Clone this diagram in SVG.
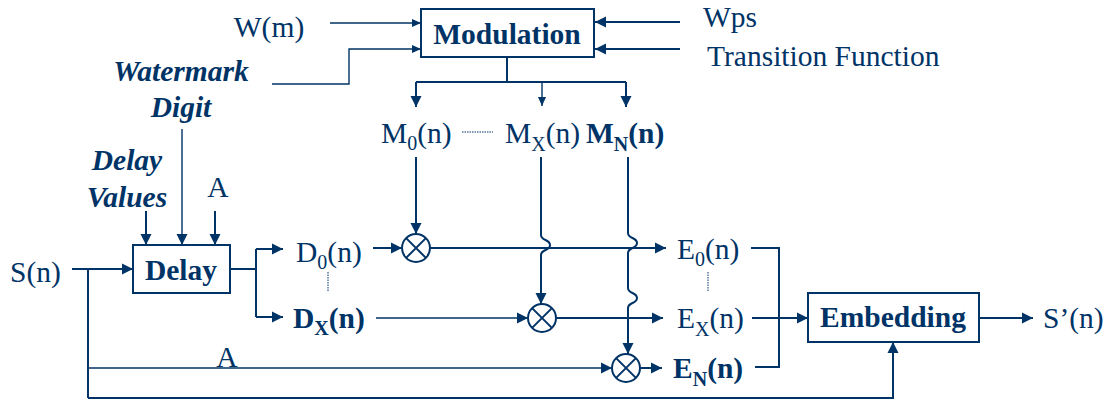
<svg xmlns="http://www.w3.org/2000/svg" width="1108" height="401" viewBox="0 0 1108 401" font-family="'Liberation Serif', 'Times New Roman', Times, serif">
<defs>
<marker id="ah" markerUnits="userSpaceOnUse" markerWidth="12" markerHeight="12" viewBox="0 0 12 12" refX="11" refY="6" orient="auto">
<path d="M0,0.5 L11,6 L0,11.5 Z" fill="#003366"/>
</marker>
<marker id="ahs" markerUnits="userSpaceOnUse" markerWidth="10" markerHeight="10" viewBox="0 0 10 10" refX="9" refY="5" orient="auto">
<path d="M0,1 L9,5 L0,9 Z" fill="#003366"/>
</marker>
</defs>
<style>
text{font-size:29.5px;fill:#003366}
.b{font-weight:bold}
.bi{font-weight:bold;font-style:italic}
.m{text-anchor:middle}
.sub{font-size:20px}
.box{fill:#fff;stroke:#003366;stroke-width:2}
.ln{fill:none;stroke:#003366;stroke-width:2}
.th{fill:none;stroke:#003366;stroke-width:1.4}
.dot{fill:none;stroke:#003366;stroke-width:1;stroke-dasharray:1.5 1}
.arr{marker-end:url(#ah)}
.arrs{marker-end:url(#ahs)}
</style>
<g id="connectors">
<path class="th arrs" d="M330,23 H421"/>
<path class="th arrs" d="M272,84 H349 V49 H421"/>
<path class="ln arr" d="M680,22 H595"/>
<path class="ln arr" d="M680,49 H595"/>
<path class="ln" d="M507,57 V82 M416,82 H626"/>
<path class="ln arr" d="M416,82 V107"/>
<path class="th arrs" d="M542,82 V106"/>
<path class="ln arr" d="M626,82 V107"/>
<path class="ln arr" d="M146,211 V245"/>
<path class="th arr" d="M182,129 V245"/>
<path class="ln arr" d="M215,211 V245"/>
<path class="ln arr" d="M72,269 H133"/>
<path class="ln" d="M230,269 H256 M256,249 V317"/>
<path class="ln arr" d="M256,249 H283"/>
<path class="ln arr" d="M256,317 H283"/>
<path class="ln" d="M88,269 V398"/>
<path class="th arr" d="M88,368 H612"/>
<path class="ln arr" d="M88,398 H893 V342"/>
<path class="ln arr" d="M373,248 H402"/>
<path class="ln arr" d="M430,248 H666"/>
<path class="th arr" d="M376,318 H528"/>
<path class="ln arr" d="M556,318 H663"/>
<path class="ln arr" d="M640,368 H662"/>
<path class="ln arr" d="M416,157 V234"/>
<path class="ln arr" d="M541,157 V235 C541,241 550,239 550,245 C550,251 541,249 541,255 V304"/>
<path class="ln arr" d="M628,157 V233 C628,239 637,237 637,243 C637,249 628,247 628,253 V288 C628,294 637,292 637,298 C637,304 628,302 628,308 V354"/>
<path class="ln" d="M751,248 H779 V367 H755"/>
<path class="ln arr" d="M752,318 H808"/>
<path class="ln arr" d="M979,318 H1033"/>
<path class="dot" d="M462,132 H493"/>
<path class="dot" d="M328,272 V292"/>
<path class="dot" d="M708,272 V292"/>
</g>
<g id="modulation">
<rect class="box" x="421" y="9" width="173" height="48"/>
<text class="b m" x="507" y="44">Modulation</text>
</g>
<g id="delay">
<rect class="box" x="133" y="245" width="97" height="48"/>
<text class="b m" x="181" y="280">Delay</text>
</g>
<g id="embedding">
<rect class="box" x="808" y="293" width="171" height="49"/>
<text class="b m" x="893" y="327">Embedding</text>
</g>
<g id="mult0">
<circle class="ln" cx="416" cy="248" r="14"/>
<path class="ln" d="M406.1,238.1 L425.9,257.9 M425.9,238.1 L406.1,257.9"/>
</g>
<g id="multX">
<circle class="ln" cx="542" cy="318" r="14"/>
<path class="ln" d="M532.1,308.1 L551.9,327.9 M551.9,308.1 L532.1,327.9"/>
</g>
<g id="multN">
<circle class="ln" cx="626" cy="368" r="14"/>
<path class="ln" d="M616.1,358.1 L635.9,377.9 M635.9,358.1 L616.1,377.9"/>
</g>
<g id="labels">
<text class="m" x="269" y="37">W(m)</text>
<text x="703" y="27">Wps</text>
<text x="707" y="66">Transition Function</text>
<text class="bi m" x="181" y="81">Watermark</text>
<text class="bi m" x="181" y="117">Digit</text>
<text class="bi m" x="127" y="170">Delay</text>
<text class="bi m" x="127" y="207">Values</text>
<text class="m" x="218" y="197">A</text>
<text x="10" y="282">S(n)</text>
<text x="296" y="262">D<tspan class="sub" dy="7">0</tspan><tspan dy="-7">(n)</tspan></text>
<text class="b" x="293" y="328">D<tspan class="sub" dy="7">X</tspan><tspan dy="-7">(n)</tspan></text>
<text class="m" x="227" y="367">A</text>
<text x="381" y="143">M<tspan class="sub" dy="7">0</tspan><tspan dy="-7">(n)</tspan></text>
<text x="505" y="143">M<tspan class="sub" dy="8">X</tspan><tspan dy="-8">(n)</tspan></text>
<text class="b" x="586" y="143">M<tspan class="sub" dy="8">N</tspan><tspan dy="-8">(n)</tspan></text>
<text x="677" y="259">E<tspan class="sub" dy="7">0</tspan><tspan dy="-7">(n)</tspan></text>
<text x="677" y="328">E<tspan class="sub" dy="8">X</tspan><tspan dy="-8">(n)</tspan></text>
<text class="b" x="673" y="378">E<tspan class="sub" dy="8">N</tspan><tspan dy="-8">(n)</tspan></text>
<text x="1043" y="328">S’(n)</text>
</g>
</svg>
